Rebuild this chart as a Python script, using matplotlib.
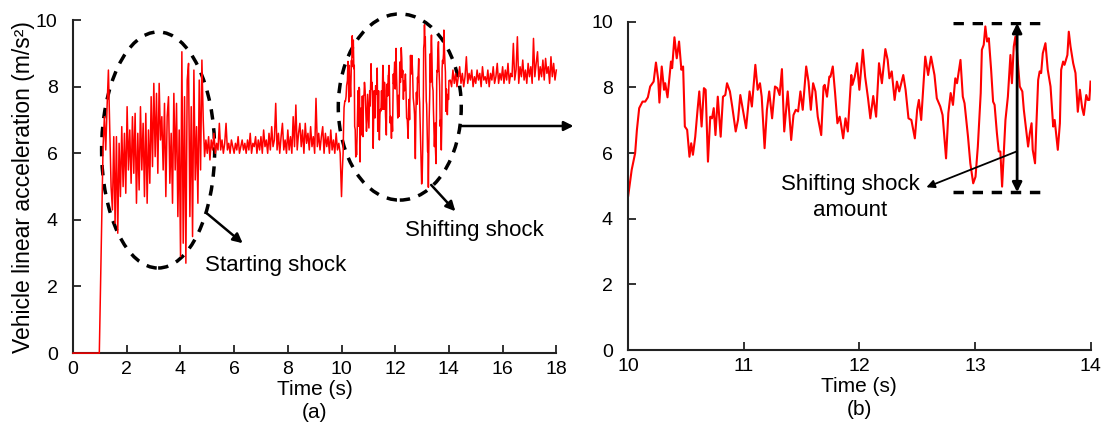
import numpy as np
import matplotlib
matplotlib.use("Agg")
import matplotlib.pyplot as plt
from matplotlib.patches import Ellipse

plt.rcParams['font.family'] = ['Liberation Sans', 'DejaVu Sans']

# ---------- data ----------
# run-up before the car moves (s, m/s2)
start_t = [0.0, 0.98]
start_v = [0.0, 0.0]

# starting shock, about 1.1 s .. 5.0 s
shock1_v = [6.2, 7.1, 6.1, 7.4, 8.5, 6.7, 5.0, 4.3, 6.5, 3.9,
            6.5, 3.6, 6.3, 4.7, 6.8, 5.0, 6.6, 4.8, 7.4, 5.5,
            6.7, 5.1, 7.1, 5.4, 7.2, 4.5, 6.6, 4.9, 7.4, 5.5,
            6.9, 4.7, 7.2, 4.5, 6.7, 5.1, 7.7, 5.6, 8.1, 5.9,
            7.8, 5.4, 8.1, 6.4, 7.1, 5.5, 7.5, 4.7, 7.1, 7.7,
            5.1, 6.6, 4.5, 7.8, 5.5, 7.5, 4.1, 6.7, 2.9, 9.05,
            3.3, 7.7, 2.7, 8.2, 8.7, 4.1, 7.4, 3.5, 8.5, 5.2,
            6.8, 4.5, 8.2, 5.5, 8.8, 7.0, 5.9, 6.4]

# first gear cruise, 5.0 s .. 9.95 s every 0.05 s
cruise1_v = [6.0, 6.5, 5.8, 6.4, 6.1, 6.6, 6.0, 6.3, 6.1, 6.9,
             6.1, 6.4, 6.0, 6.3, 6.9, 6.1, 6.3, 6.0, 6.4, 6.2,
             6.0, 6.3, 6.1, 6.5, 6.0, 6.2, 6.4, 6.1, 6.3, 6.0,
             6.4, 6.1, 6.6, 6.0, 6.3, 6.2, 6.5, 6.0, 6.4, 6.1,
             6.5, 6.0, 6.7, 6.2, 6.4, 6.0, 6.6, 6.1, 6.8, 6.2,
             6.4, 7.5, 6.1, 6.6, 6.0, 6.5, 6.9, 6.1, 6.4, 6.0,
             6.7, 6.1, 6.5, 6.0, 7.1, 6.2, 7.45, 6.1, 6.6, 6.9,
             6.2, 6.7, 6.0, 6.9, 6.3, 6.6, 6.1, 6.8, 6.2, 6.5,
             6.0, 7.65, 6.2, 6.6, 6.1, 6.5, 6.8, 6.0, 6.6, 6.2,
             6.5, 6.0, 6.7, 6.1, 6.4, 6.0, 6.6, 6.1, 6.3, 6.0]

# shifting shock, 10 s .. 14 s (this is what panel (b) zooms into)
shift_t = [10.00, 10.03, 10.06, 10.075, 10.095, 10.124, 10.147, 10.17, 10.19, 10.22,
           10.24, 10.26, 10.27, 10.29, 10.31, 10.32, 10.34, 10.37, 10.38, 10.40,
           10.42, 10.44, 10.46, 10.475, 10.49, 10.51, 10.53, 10.545, 10.56, 10.58,
           10.60, 10.615, 10.635, 10.655, 10.67, 10.69, 10.71, 10.725, 10.74, 10.755,
           10.775, 10.80, 10.82, 10.84, 10.855, 10.88, 10.90, 10.93, 10.95, 10.97,
           11.02, 11.05, 11.07, 11.10, 11.12, 11.14, 11.155, 11.18, 11.20, 11.22,
           11.245, 11.27, 11.29, 11.31, 11.33, 11.35, 11.38, 11.41, 11.43, 11.45,
           11.47, 11.49, 11.51, 11.54, 11.56, 11.58, 11.60, 11.62, 11.64, 11.67,
           11.69, 11.70, 11.72, 11.74, 11.75, 11.77, 11.79, 11.81, 11.83, 11.84,
           11.86, 11.88, 11.90, 11.93, 11.94, 11.96, 11.98, 12.00, 12.03, 12.05,
           12.075, 12.095, 12.12, 12.145, 12.17, 12.195, 12.225, 12.245, 12.26, 12.28,
           12.305, 12.325, 12.345, 12.38, 12.40, 12.425, 12.45, 12.48, 12.50, 12.515,
           12.535, 12.57, 12.595, 12.62, 12.65, 12.67, 12.70, 12.72, 12.75, 12.77,
           12.79, 12.81, 12.83, 12.845, 12.875, 12.895, 12.91, 12.94, 12.96, 12.985,
           13.005, 13.025, 13.05, 13.06, 13.076, 13.09, 13.105, 13.12, 13.14, 13.157,
           13.17, 13.19, 13.206, 13.22, 13.235, 13.25, 13.264, 13.285, 13.307, 13.32,
           13.336, 13.35, 13.365, 13.388, 13.41, 13.423, 13.446, 13.46, 13.475, 13.49,
           13.50, 13.52, 13.53, 13.547, 13.56, 13.573, 13.587, 13.61, 13.63, 13.654,
           13.677, 13.69, 13.717, 13.735, 13.746, 13.763, 13.775, 13.80, 13.812, 13.827,
           13.85, 13.87, 13.89, 13.908, 13.928, 13.942, 13.963, 13.977, 13.99, 14.00]
shift_v = [4.70, 5.49, 6.00, 6.70, 7.37, 7.57, 7.57, 7.70, 8.03, 8.18,
           8.76, 8.23, 7.54, 8.64, 7.93, 8.13, 7.70, 8.79, 8.59, 9.53,
           8.89, 9.40, 8.54, 8.64, 6.81, 6.71, 5.89, 6.30, 5.95, 6.50,
           7.32, 7.88, 6.81, 7.98, 7.93, 5.74, 7.11, 7.06, 7.37, 6.55,
           7.72, 6.50, 7.72, 7.77, 8.13, 7.88, 7.42, 6.66, 7.01, 7.77,
           6.76, 7.88, 7.42, 8.69, 7.93, 8.13, 7.72, 6.15, 7.32, 7.88,
           7.06, 8.03, 7.98, 7.77, 8.56, 6.66, 7.88, 6.40, 7.16, 7.32,
           7.27, 7.88, 7.32, 8.64, 8.18, 7.32, 8.13, 7.88, 7.11, 6.55,
           8.03, 8.08, 7.72, 8.33, 8.33, 8.64, 7.83, 6.91, 7.11, 6.91,
           6.45, 7.06, 6.66, 8.38, 8.08, 8.33, 8.74, 7.93, 9.15, 8.33,
           7.67, 7.06, 7.74, 7.11, 8.74, 8.13, 9.17, 8.84, 8.28, 8.49,
           7.62, 8.18, 7.88, 8.38, 7.93, 7.06, 7.01, 6.45, 7.32, 7.62,
           7.01, 8.94, 8.38, 8.94, 8.38, 7.67, 7.42, 7.16, 5.84, 7.22,
           7.83, 7.47, 8.28, 8.13, 8.84, 7.72, 7.52, 6.50, 5.69, 5.08,
           5.28, 6.20, 7.83, 9.15, 9.30, 9.86, 9.40, 9.50, 8.54, 7.57,
           7.47, 6.61, 6.05, 6.05, 4.98, 6.00, 7.01, 7.72, 8.99, 8.13,
           9.25, 9.55, 9.04, 8.03, 7.88, 7.32, 6.61, 6.20, 6.61, 6.91,
           6.10, 5.69, 6.71, 8.23, 8.49, 8.44, 9.04, 9.35, 8.54, 8.03,
           6.81, 7.01, 6.10, 6.91, 8.54, 8.79, 8.69, 8.99, 9.70, 9.25,
           8.74, 8.44, 7.26, 7.93, 7.37, 7.16, 7.77, 7.62, 7.62, 8.18]

# second gear cruise, 14.05 s .. 18.0 s every 0.05 s
cruise2_v = [8.2, 8.0, 8.5, 8.1, 8.4, 8.0, 8.3, 8.6, 8.1, 8.4,
             8.0, 8.3, 8.9, 8.1, 8.4, 8.2, 8.5, 8.0, 8.3, 8.1,
             8.5, 8.2, 8.4, 8.0, 8.6, 8.2, 8.3, 8.1, 8.5, 8.0,
             8.4, 8.2, 8.6, 8.1, 8.3, 8.7, 8.1, 8.4, 8.2, 8.6,
             8.1, 8.5, 8.2, 8.7, 8.1, 8.4, 8.3, 9.3, 8.2, 8.5,
             9.5, 8.1, 8.6, 8.3, 8.8, 8.2, 8.5, 8.1, 8.7, 8.3,
             8.6, 8.1, 9.45, 8.3, 8.7, 9.05, 8.2, 8.6, 8.3, 8.8,
             8.2, 8.85, 8.4, 8.6, 8.1, 8.9, 8.3, 8.7, 8.2, 8.5]

# ---------- build the full record ----------
t_all = np.concatenate([
    start_t,
    np.linspace(1.12, 4.95, len(shock1_v)),
    np.linspace(5.0, 9.95, len(cruise1_v)),
    shift_t,
    np.linspace(14.05, 18.0, len(cruise2_v)),
])
v_all = np.concatenate([start_v, shock1_v, cruise1_v, shift_v, cruise2_v])

fig = plt.figure(figsize=(11.06, 4.37), dpi=100)
ax1 = fig.add_axes([0.066, 0.192, 0.437, 0.762])
ax2 = fig.add_axes([0.568, 0.199, 0.418, 0.751])

for ax in (ax1, ax2):
    for s in ('top', 'right'):
        ax.spines[s].set_visible(False)
    for s in ('left', 'bottom'):
        ax.spines[s].set_linewidth(1.5)
        ax.spines[s].set_color('#222222')
    ax.tick_params(direction='in', length=6, width=1.3, labelsize=14,
                   color='#222222')
    ax.tick_params(axis='x', pad=6)
    ax.tick_params(axis='y', pad=11)
    ax.set_ylim(0, 10)
    ax.set_yticks(range(0, 11, 2))

# ---------- (a) full record ----------
ax1.plot(t_all, v_all, color='red', lw=1.1, zorder=3, clip_on=False)
ax1.set_xlim(0, 18)
ax1.set_xticks(range(0, 19, 2))
ax1.set_xlabel("Time (s)\n(a)", fontsize=15, labelpad=1, linespacing=1.3)
ax1.set_ylabel("Vehicle linear acceleration (m/s²)", fontsize=16.5, labelpad=1)

dash = (0, (3, 2.5))
ax1.add_patch(Ellipse((3.17, 6.1), 4.21, 7.09, fill=False, ec='black',
                      lw=2.5, ls=dash, clip_on=False))
ax1.add_patch(Ellipse((12.17, 7.39), 4.58, 5.59, fill=False, ec='black',
                      lw=2.5, ls=dash, clip_on=False))

arrow = dict(arrowstyle='-|>', color='black', lw=1.8, mutation_scale=14,
             shrinkA=0, shrinkB=0)
ax1.annotate("", xy=(6.32, 3.3), xytext=(4.98, 4.2), arrowprops=arrow)
ax1.text(4.92, 2.64, "Starting shock", fontsize=16, ha='left', va='center')
ax1.annotate("", xy=(14.24, 4.26), xytext=(13.34, 5.05), arrowprops=arrow)
ax1.text(12.37, 3.69, "Shifting shock", fontsize=16, ha='left', va='center')
ax1.annotate("", xy=(18.64, 6.82), xytext=(14.42, 6.82), arrowprops=arrow,
             annotation_clip=False)

# ---------- (b) zoom on the gear shift ----------
ax2.plot(shift_t, shift_v, color='red', lw=1.5)
ax2.set_xlim(10, 14)
ax2.set_xticks(range(10, 15))
ax2.set_xlabel("Time (s)\n(b)", fontsize=15, labelpad=1, linespacing=1.3)

ax2.hlines([9.96, 4.81], 12.81, 13.61, colors='black', lw=2.5, linestyles=[dash])
ax2.annotate("", xy=(13.365, 4.81), xytext=(13.365, 9.96),
             arrowprops=dict(arrowstyle='<|-|>', color='black', lw=2,
                             mutation_scale=14, shrinkA=0, shrinkB=0))
ax2.annotate("", xy=(12.58, 4.96), xytext=(13.36, 6.05),
             arrowprops=dict(arrowstyle='-|>', color='black', lw=1.3,
                             mutation_scale=12, shrinkA=0, shrinkB=0))
ax2.text(11.92, 4.66, "Shifting shock\namount", fontsize=16, ha='center',
         va='center', linespacing=1.3)

fig.savefig("out.png", dpi=100)
